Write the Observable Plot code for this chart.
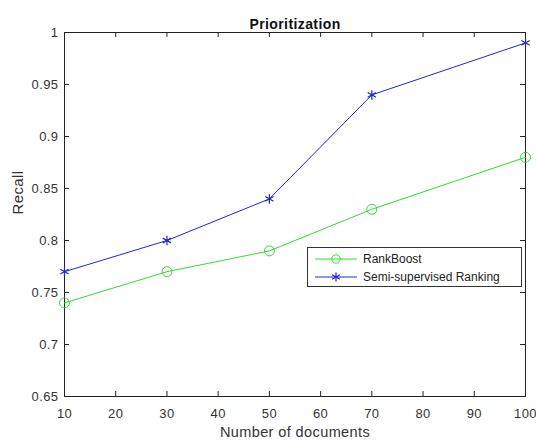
<!DOCTYPE html>
<html>
<head>
<meta charset="utf-8">
<script src="https://cdn.jsdelivr.net/npm/d3@7"></script>
<script src="https://cdn.jsdelivr.net/npm/@observablehq/plot@0.6"></script>
<style>
  html, body { margin: 0; padding: 0; background: #fff; }
  #wrap { position: relative; width: 536px; height: 441px; font-family: "Liberation Sans", Arial, sans-serif; }
  #legend { position: absolute; left: 307px; top: 247px; width: 213px; height: 38px; border: 1px solid #333; background: #fff; font-size: 12px; color: #222; box-sizing: content-box; }
  #legend .row { display: flex; align-items: center; height: 18px; margin-top: 2px; }
  #legend .row + .row { margin-top: 0; }
  #legend svg { margin-left: 7px; margin-right: 6px; }
</style>
</head>
<body>
<div id="wrap"></div>
<script>
const docs = [10, 30, 50, 70, 100];
const rankBoost = [0.74, 0.77, 0.79, 0.83, 0.88];
const semiSupervised = [0.77, 0.80, 0.84, 0.94, 0.99];
const xTicks = [10, 20, 30, 40, 50, 60, 70, 80, 90, 100];
const yTicks = [0.65, 0.7, 0.75, 0.8, 0.85, 0.9, 0.95, 1];
const seriesNames = ["RankBoost", "Semi-supervised Ranking"];
const green = "#2fdc2f";
const blue = "#2525d0";

const rb = docs.map((d, i) => ({x: d, y: rankBoost[i]}));
const ss = docs.map((d, i) => ({x: d, y: semiSupervised[i]}));

const W = 536, H = 441, mt = 32, mb = 45, ml = 64, mr = 11;
const fh = H - mt - mb;
const fw = W - ml - mr;

const chart = Plot.plot({
  width: W, height: H,
  marginTop: mt, marginBottom: mb, marginLeft: ml, marginRight: mr,
  style: {fontFamily: "Liberation Sans, Arial, sans-serif", fontSize: "13px", color: "#333", background: "#fff", letterSpacing: "0.4px"},
  x: {domain: [10, 100]},
  y: {domain: [0.65, 1]},
  marks: [
    Plot.frame({stroke: "#222", strokeWidth: 1}),
    Plot.tickX(xTicks, {x: d => d, insetTop: fh - 5, stroke: "#222"}),
    Plot.tickX(xTicks, {x: d => d, insetBottom: fh - 5, stroke: "#222"}),
    Plot.tickY(yTicks, {y: d => d, insetRight: fw - 5, stroke: "#222"}),
    Plot.tickY(yTicks, {y: d => d, insetLeft: fw - 5, stroke: "#222"}),
    Plot.axisX(xTicks, {tickSize: 0, tickPadding: 12, fill: "#333", label: null}),
    Plot.axisY(yTicks, {tickSize: 0, tickPadding: 6, fill: "#333", label: null, tickFormat: d => String(+d.toFixed(2))}),
    Plot.text(["Number of documents"], {frameAnchor: "bottom", dy: 40, fontSize: 14.5, fill: "#333", letterSpacing: "1px"}),
    Plot.text(["Recall"], {frameAnchor: "left", dx: -46, rotate: -90, fontSize: 15, fill: "#333", letterSpacing: "1.4px"}),
    Plot.text(["Prioritization"], {frameAnchor: "top", dy: -13, fontSize: 14, fontWeight: "bold", fill: "#111", letterSpacing: "0.8px"}),
    Plot.line(rb, {x: "x", y: "y", stroke: green, strokeWidth: 1}),
    Plot.dot(rb, {x: "x", y: "y", stroke: green, r: 5, strokeWidth: 1}),
    Plot.line(ss, {x: "x", y: "y", stroke: blue, strokeWidth: 1}),
    Plot.dot(ss, {x: "x", y: "y", stroke: blue, symbol: "asterisk", r: 4.5, strokeWidth: 1.2})
  ]
});
document.getElementById("wrap").appendChild(chart);

const legend = document.createElement("div");
legend.id = "legend";
const samples = [
  `<svg width="42" height="12"><line x1="0" y1="6" x2="42" y2="6" stroke="${green}"/><circle cx="21" cy="6" r="4.2" fill="none" stroke="${green}"/></svg>`,
  `<svg width="42" height="12"><line x1="0" y1="6" x2="42" y2="6" stroke="${blue}"/><g stroke="${blue}" stroke-width="1.2"><line x1="21" y1="1.5" x2="21" y2="10.5"/><line x1="17.1" y1="3.75" x2="24.9" y2="8.25"/><line x1="17.1" y1="8.25" x2="24.9" y2="3.75"/></g></svg>`
];
legend.innerHTML = seriesNames.map((n, i) => `<div class="row">${samples[i]}<span>${n}</span></div>`).join("");
document.getElementById("wrap").appendChild(legend);
</script>
</body>
</html>
